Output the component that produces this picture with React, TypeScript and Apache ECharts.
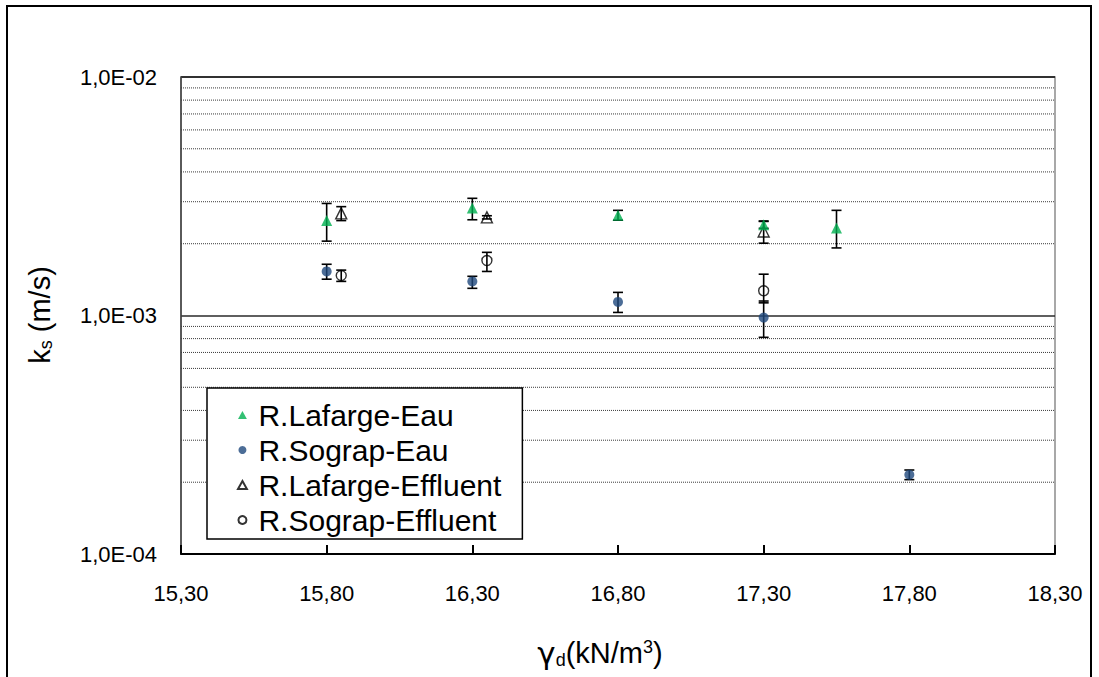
import React, { useEffect, useRef } from "react";
import * as echarts from "echarts";

// ---- data ----
const xTickValues = [15.3, 15.8, 16.3, 16.8, 17.3, 17.8, 18.3];
const yMinorGrid = [2e-3, 3e-3, 4e-3, 5e-3, 6e-3, 7e-3, 8e-3, 9e-3, 2e-4, 3e-4, 4e-4, 5e-4, 6e-4, 7e-4, 8e-4, 9e-4];

const lafargeEauX = [15.8, 16.3, 16.8, 17.3, 17.55];
const lafargeEauY = [2.5e-3, 2.82e-3, 2.63e-3, 2.4e-3, 2.33e-3];
const lafargeEauLow = [2.05e-3, 2.52e-3, 2.51e-3, 2.32e-3, 1.92e-3];
const lafargeEauHigh = [2.95e-3, 3.1e-3, 2.76e-3, 2.48e-3, 2.76e-3];

const sograpEauX = [15.8, 16.3, 16.8, 17.3, 17.8];
const sograpEauY = [1.53e-3, 1.39e-3, 1.14e-3, 0.98e-3, 2.15e-4];
const sograpEauLow = [1.42e-3, 1.3e-3, 1.03e-3, 0.81e-3, 2.05e-4];
const sograpEauHigh = [1.64e-3, 1.46e-3, 1.25e-3, 1.15e-3, 2.25e-4];

const lafargeEffX = [15.85, 16.35, 17.3];
const lafargeEffY = [2.68e-3, 2.58e-3, 2.25e-3];
const lafargeEffLow = [2.5e-3, 2.54e-3, 2.01e-3];
const lafargeEffHigh = [2.86e-3, 2.62e-3, 2.49e-3];

const sograpEffX = [15.85, 16.35, 17.3];
const sograpEffY = [1.47e-3, 1.7e-3, 1.27e-3];
const sograpEffLow = [1.39e-3, 1.53e-3, 1.13e-3];
const sograpEffHigh = [1.55e-3, 1.84e-3, 1.49e-3];

const seriesNames = ["R.Lafarge-Eau", "R.Sograp-Eau", "R.Lafarge-Effluent", "R.Sograp-Effluent"];

const FONT = "'Liberation Sans', Arial, sans-serif";
const TRI_ICON = "path://M5,0 L10,9 L0,9 Z";

function pts(xs: number[], ys: number[]) {
  return xs.map((x, i) => [x, ys[i]]);
}
function errs(xs: number[], lo: number[], hi: number[]) {
  return xs.map((x, i) => [x, lo[i], hi[i]]);
}

function errorSeries(data: number[][]) {
  return {
    type: "custom",
    z: 3,
    silent: true,
    encode: { x: 0, y: [1, 2] },
    data,
    renderItem: (params: any, api: any) => {
      const x = api.value(0);
      const lo = api.coord([x, api.value(1)]);
      const hi = api.coord([x, api.value(2)]);
      const w = 5;
      const style = { stroke: "#000", lineWidth: 1.6 };
      return {
        type: "group",
        children: [
          { type: "line", shape: { x1: lo[0], y1: lo[1], x2: hi[0], y2: hi[1] }, style },
          { type: "line", shape: { x1: hi[0] - w, y1: hi[1], x2: hi[0] + w, y2: hi[1] }, style },
          { type: "line", shape: { x1: lo[0] - w, y1: lo[1], x2: lo[0] + w, y2: lo[1] }, style },
        ],
      };
    },
  };
}

export default function App() {
  const ref = useRef<HTMLDivElement>(null);
  useEffect(() => {
    if (!ref.current) return;
    const chart = echarts.init(ref.current, undefined, { renderer: "svg" });
    const option: any = {
      animation: false,
      backgroundColor: "#fff",
      textStyle: { fontFamily: FONT },
      grid: {
        left: 181,
        right: 44,
        top: 77,
        bottom: 123,
        show: true,
        borderColor: "#8c8c8c",
        borderWidth: 1.5,
        containLabel: false,
      },
      xAxis: {
        type: "value",
        min: 15.3,
        max: 18.3,
        axisLine: { show: true, onZero: false, lineStyle: { color: "#000", width: 2 } },
        axisTick: {
          show: true,
          inside: true,
          length: 9,
          customValues: xTickValues,
          lineStyle: { color: "#000", width: 2 },
        },
        axisLabel: {
          customValues: xTickValues,
          margin: 28,
          fontSize: 22,
          color: "#000",
          fontFamily: FONT,
          formatter: (v: number) => v.toFixed(2).replace(".", ","),
        },
        splitLine: { show: false },
      },
      yAxis: {
        type: "log",
        logBase: 10,
        min: 1e-4,
        max: 1e-2,
        axisLine: { show: true, lineStyle: { color: "#404040", width: 1.5 } },
        axisTick: { show: false },
        axisLabel: {
          margin: 24,
          fontSize: 22,
          color: "#000",
          fontFamily: FONT,
          formatter: (v: number) => {
            const e = Math.round(Math.log10(v));
            const a = Math.abs(e);
            return "1,0E" + (e < 0 ? "-" : "+") + (a < 10 ? "0" : "") + a;
          },
        },
        splitLine: { show: true, lineStyle: { color: "#2a2a2a", width: 1.5 } },
        minorTick: { show: false },
        minorSplitLine: { show: false },
      },
      legend: {
        data: [
          { name: seriesNames[0], icon: TRI_ICON },
          { name: seriesNames[1] },
          { name: seriesNames[2], icon: TRI_ICON },
          { name: seriesNames[3] },
        ],
        orient: "vertical",
        left: 207,
        top: 388,
        backgroundColor: "#fff",
        borderColor: "#000",
        borderWidth: 1.5,
        borderRadius: 0,
        padding: [12, 21, 4, 30],
        itemGap: 5,
        itemWidth: 22,
        itemHeight: 8,
        symbolKeepAspect: true,
        textStyle: { fontSize: 30, color: "#000", fontFamily: FONT },
        z: 10,
      },
      graphic: [
        {
          type: "rect",
          silent: true,
          shape: { x: 7, y: 6, width: 1084, height: 700 },
          style: { fill: "none", stroke: "#000", lineWidth: 2 },
        },
        {
          type: "text",
          x: 40,
          y: 315,
          rotation: Math.PI / 2,
          style: {
            text: "{a|k}{b|s}{a| (m/s)}",
            align: "center",
            verticalAlign: "middle",
            rich: {
              a: { fontSize: 29, fontFamily: FONT, fill: "#000" },
              b: { fontSize: 18, fontFamily: FONT, fill: "#000", verticalAlign: "bottom" },
            },
          },
        },
        {
          type: "text",
          x: 600,
          y: 653,
          style: {
            text: "{g|γ}{b|d}{a|(kN/m}{c|3}{a|)}",
            align: "center",
            verticalAlign: "middle",
            rich: {
              g: { fontSize: 31, fontFamily: "'DejaVu Sans', sans-serif", fill: "#000" },
              a: { fontSize: 29, fontFamily: FONT, fill: "#000" },
              b: { fontSize: 18, fontFamily: FONT, fill: "#000", verticalAlign: "bottom" },
              c: { fontSize: 18, fontFamily: FONT, fill: "#000", verticalAlign: "top" },
            },
          },
        },
      ],
      series: [
        {
          type: "custom",
          silent: true,
          z: 1,
          encode: { x: 0, y: 1 },
          data: yMinorGrid.map((v) => [15.3, v]),
          renderItem: (params: any, api: any) => {
            const cs = params.coordSys;
            const p = api.coord([api.value(0), api.value(1)]);
            return {
              type: "line",
              shape: { x1: cs.x, y1: p[1], x2: cs.x + cs.width, y2: p[1] },
              style: { stroke: "#3a3a3a", lineWidth: 1, lineDash: [1, 1] },
            };
          },
        },
        errorSeries(errs(lafargeEauX, lafargeEauLow, lafargeEauHigh)),
        errorSeries(errs(sograpEauX, sograpEauLow, sograpEauHigh)),
        errorSeries(errs(lafargeEffX, lafargeEffLow, lafargeEffHigh)),
        errorSeries(errs(sograpEffX, sograpEffLow, sograpEffHigh)),
        {
          name: seriesNames[0],
          type: "scatter",
          z: 5,
          symbol: "triangle",
          symbolSize: 11,
          itemStyle: { color: "#00B050" },
          data: pts(lafargeEauX, lafargeEauY),
        },
        {
          name: seriesNames[1],
          type: "scatter",
          z: 5,
          symbol: "circle",
          symbolSize: 10,
          itemStyle: { color: "#1F497D" },
          data: pts(sograpEauX, sograpEauY),
        },
        {
          name: seriesNames[2],
          type: "scatter",
          z: 4,
          symbol: "triangle",
          symbolSize: 11,
          itemStyle: { color: "rgba(255,255,255,0)", borderColor: "#000", borderWidth: 1.4 },
          data: pts(lafargeEffX, lafargeEffY),
        },
        {
          name: seriesNames[3],
          type: "scatter",
          z: 4,
          symbol: "circle",
          symbolSize: 10,
          itemStyle: { color: "rgba(255,255,255,0)", borderColor: "#000", borderWidth: 1.4 },
          data: pts(sograpEffX, sograpEffY),
        },
      ],
    };
    chart.setOption(option);
    return () => chart.dispose();
  }, []);
  return (
    <div
      ref={ref}
      style={{ position: "absolute", left: 0, top: 0, width: 1099, height: 677 }}
    />
  );
}
